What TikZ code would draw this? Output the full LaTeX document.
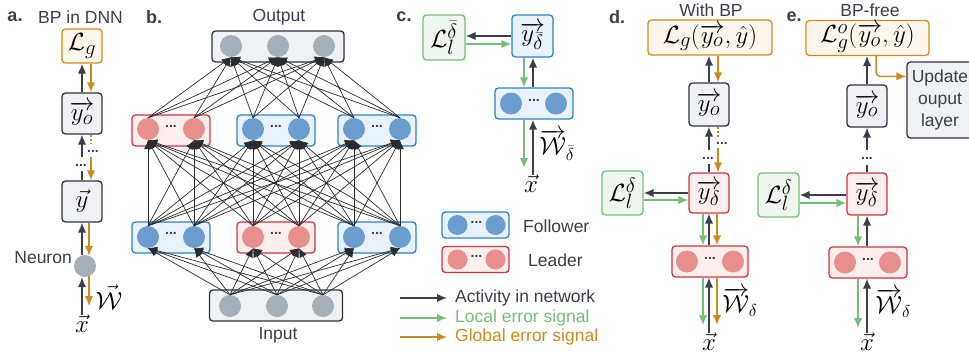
\documentclass[tikz,border=0pt]{standalone}
\usepackage{fontspec}
\setmainfont{Liberation Sans}
\usetikzlibrary{arrows.meta,calc}
\definecolor{dkc}{HTML}{3A3F4A}
\definecolor{txc}{HTML}{3A3F4A}
\definecolor{nnc}{HTML}{2A2C30}
\definecolor{grc}{HTML}{74BF78}
\definecolor{grf}{HTML}{EEF6EF}
\definecolor{ogc}{HTML}{CF8A1E}
\definecolor{ogf}{HTML}{FCF6EC}
\definecolor{rdb}{HTML}{D0353F}
\definecolor{rdf}{HTML}{FDEEEE}
\definecolor{rdc}{HTML}{E78F8A}
\definecolor{blb}{HTML}{2A85C5}
\definecolor{blf}{HTML}{E9F2FB}
\definecolor{blc}{HTML}{6B9ECF}
\definecolor{gyb}{HTML}{2F343C}
\definecolor{gyf}{HTML}{EFF1F4}
\definecolor{gyc}{HTML}{A5AFBA}
\tikzset{
 mth/.style={font=\fontsize{28}{30}\selectfont},
 bx/.style={rounded corners=3.5pt, line width=1.3pt, inner sep=0pt, mth},
 obx/.style={bx,draw=ogc,fill=ogf},
 gbx/.style={bx,draw=gyb,fill=gyf},
 rbx/.style={bx,draw=rdb,fill=rdf},
 bbx/.style={bx,draw=blb,fill=blf},
 lbx/.style={bx,draw=grc,fill=grf},
 rneu/.style={circle,fill=rdc,inner sep=0pt,minimum size=22pt},
 bneu/.style={circle,fill=blc,inner sep=0pt,minimum size=22pt},
 gneu/.style={circle,fill=gyc,inner sep=0pt,minimum size=22pt},
 ar/.style={line width=1.5pt,-{Latex[length=10pt,width=8.5pt]}},
 dk/.style={ar,draw=dkc},
 gr/.style={ar,draw=grc},
 og/.style={ar,draw=ogc},
 dkline/.style={line width=1.5pt,draw=dkc},
 ogdash/.style={line width=1.5pt,draw=ogc,dash pattern=on 2pt off 2pt},
 nn/.style={draw=nnc,line width=0.7pt,-{Latex[length=9pt,width=8pt]}},
 txt/.style={font=\fontsize{17.5}{20}\selectfont,text=txc,inner sep=0pt},
 pl/.style={font=\bfseries\fontsize{18}{20}\selectfont,text=txc,inner sep=0pt},
 dts/.style={font=\bfseries\fontsize{14}{14}\selectfont,text=txc,inner sep=0pt},
 lbl/.style={mth,inner sep=0pt},
 wlbl/.style={font=\fontsize{25}{27}\selectfont,inner sep=0pt},
}
\begin{document}
\begin{tikzpicture}[x=1pt,y=-1pt]
\clip (0,0) rectangle (969,356);
\fill[white] (0,0) rectangle (969,356);

% ---------------- panel a
\node[pl] at (15,17) {a.};
\node[txt,anchor=west] at (38,17) {BP in DNN};
\node[obx,minimum width=40,minimum height=34] (aL) at (82,46) {$\mathcal{L}_g$};
\node[gbx,minimum width=40,minimum height=41] (aYo) at (82,113.5) {$\overrightarrow{y_o}$};
\node[gbx,minimum width=40,minimum height=41] (aY) at (82,201.5) {$\vec{y}$};
\node[gneu] (aN) at (85,266) {};
\node[txt,anchor=east] at (72,258) {Neuron};
\node[lbl] (aX) at (82,324) {$\vec{x}$};
\node[wlbl] at (109,297) {$\vec{\mathcal{W}}$};
\draw[dk] (aYo.north) -- (aL.south);
\draw[og] ($(aL.south)+(9,0)$) -- ($(aYo.north)+(9,0)$);
\coordinate (aD1) at (82,157);
\draw[dk] (aD1) -- (aYo.south);
\draw[dkline] (aY.north) -- ++(0,-9);
\node[dts] at (93,151) {...};
\node[dts] at (81,165) {...};
\draw[ogdash] ($(aYo.south)+(9,0)$) -- ++(0,9);
\coordinate (aO1) at (91,157);
\draw[og] (aO1) -- ($(aY.north)+(9,0)$);
\draw[dk] (aN.north -| aY.south) -- (aY.south);
\draw[og] ($(aY.south)+(7,0)$) -- ($(aN.north)+(4,1)$);
\coordinate (aOx) at (89,306);
\draw[dk] (aX.north) -- (aN.south -| aX.north);
\draw[og] ($(aN.south)+(4,-1)$) -- (aOx);

% ---------------- panel b
\node[pl] at (154,17) {b.};
\node[txt] at (279,17) {Output};
\node[txt] at (278,335) {Input};
\node[gbx,minimum width=132,minimum height=31] (bO) at (278,46.5) {};
\foreach \k/\x in {1/231,2/278,3/324} \node[gneu] (o\k) at (\x,46) {};
\node[rbx,minimum width=78,minimum height=31] (bU1) at (171,130.5) {};
\node[bbx,minimum width=78,minimum height=31] (bU2) at (276,130.5) {};
\node[bbx,minimum width=78,minimum height=31] (bU3) at (377,130.5) {};
\node[bbx,minimum width=78,minimum height=31] (bL1) at (171,237.5) {};
\node[rbx,minimum width=78,minimum height=31] (bL2) at (276,237.5) {};
\node[bbx,minimum width=78,minimum height=31] (bL3) at (377,237.5) {};
\node[rneu] (u1) at (148,129) {};
\node[rneu] (u2) at (194,129) {};
\node[bneu] (u3) at (253,129) {};
\node[bneu] (u4) at (299,129) {};
\node[bneu] (u5) at (354,129) {};
\node[bneu] (u6) at (400,129) {};
\node[bneu] (l1) at (148,237) {};
\node[bneu] (l2) at (194,237) {};
\node[rneu] (l3) at (253,237) {};
\node[rneu] (l4) at (299,237) {};
\node[bneu] (l5) at (354,237) {};
\node[bneu] (l6) at (400,237) {};
\foreach \b in {bU1,bU2,bU3,bL1,bL2,bL3} \node[dts] at ($(\b)+(0,-4)$) {...};
\node[gbx,minimum width=133,minimum height=31] (bI) at (276,305.5) {};
\foreach \k/\x in {1/230,2/277,3/323} \node[gneu] (i\k) at (\x,306) {};
\foreach \s in {1,2,3} \foreach \t in {1,...,6} \draw[nn] (i\s.north) -- (l\t.south);
\foreach \s in {1,...,6} \foreach \t in {1,...,6} \draw[nn] (l\s.north) -- (u\t.south);
\foreach \s in {1,...,6} \foreach \t in {1,2,3} \draw[nn] (u\s.north) -- (o\t.south);

% ---------------- panel c
\node[pl] at (404,17) {c.};
\node[lbx,minimum width=42,minimum height=45] (cL) at (444,37.5) {$\mathcal{L}_l^{\bar\delta}$};
\node[bbx,minimum width=41,minimum height=42] (cY) at (532.5,36) {$\overrightarrow{y_{\bar\delta}}$};
\draw[dk] (cY.west) -- (cY.west -| cL.east);
\draw[gr] ($(cL.east)+(0,6.5)$) -- ($(cY.west)+(0,8)$);
\node[bbx,minimum width=78,minimum height=31] (cG) at (534,103.5) {};
\node[bneu] at ($(cG)+(-23,0)$) {};
\node[bneu] at ($(cG)+(22,0)$) {};
\node[dts] at ($(cG)+(0,-3)$) {...};
\draw[gr] ($(cY.south)+(-8.5,0)$) -- ($(cG.north)+(-10,0)$);
\draw[dk] ($(cG.north)+(-1,0)$) -- ($(cY.south)+(0.5,0)$);
\coordinate (cXg) at (524,168);
\draw[gr] ($(cG.south)+(-10,0)$) -- (cXg);
\node[lbl] (cX) at (531,184) {$\vec{x}$};
\draw[dk] ($(cX.north)+(2,0)$) -- ($(cG.south)+(-1,0)$);
\node[wlbl] at (557,145) {$\overrightarrow{\mathcal{W}}_{\bar\delta}$};

% legend
\node[bbx,minimum width=67,minimum height=26] (lF) at (475.5,225) {};
\node[bneu,minimum size=20pt] at ($(lF)+(-18,0)$) {};
\node[bneu,minimum size=20pt] at ($(lF)+(20,0)$) {};
\node[dts] at ($(lF)+(1,-3)$) {...};
\node[txt,anchor=west] at (523,226) {Follower};
\node[rbx,minimum width=67,minimum height=26] (lL) at (475.5,259.5) {};
\node[rneu,minimum size=20pt] at ($(lL)+(-18,0)$) {};
\node[rneu,minimum size=20pt] at ($(lL)+(20,0)$) {};
\node[dts] at ($(lL)+(1,-3)$) {...};
\node[txt,anchor=west] at (528,260) {Leader};
\coordinate (k1a) at (400,298); \coordinate (k1b) at (447,298);
\coordinate (k2a) at (400,318); \coordinate (k2b) at (447,318);
\coordinate (k3a) at (400,337); \coordinate (k3b) at (447,337);
\draw[dk] (k1a) -- (k1b);
\draw[gr] (k2a) -- (k2b);
\draw[og] (k3a) -- (k3b);
\node[txt,anchor=west] at (455,298) {Activity in network};
\node[txt,anchor=west,text=grc] at (455,318) {Local error signal};
\node[txt,anchor=west,text=ogc] at (455,337) {Global error signal};

% ---------------- panel d
\node[pl] at (617,17) {d.};
\node[txt] at (711,10) {With BP};
\node[obx,minimum width=124,minimum height=35] (dL) at (710,37.5) {$\mathcal{L}_g(\overrightarrow{y_o},\hat{y})$};
\node[gbx,minimum width=40,minimum height=43] (dYo) at (709,104.5) {$\overrightarrow{y_o}$};
\draw[dk] (dYo.north) -- (dYo.north |- dL.south);
\draw[og] ($(dL.south)+(8,0)$) -- ($(dYo.north)+(9,0)$);
\coordinate (dD1) at (709,150);
\draw[dk] (dD1) -- (dYo.south);
\node[dts] at (722,143) {...};
\node[dts] at (708,158) {...};
\node[rbx,minimum width=40,minimum height=40] (dYd) at (709,193) {$\overrightarrow{y_\delta}$};
\draw[dkline] (dYd.north) -- ++(0,-8);
\draw[ogdash] ($(dYo.south)+(9,0)$) -- ++(0,10);
\coordinate (dO1) at (718,148);
\draw[og] (dO1) -- ($(dYd.north)+(9,0)$);
\node[lbx,minimum width=41,minimum height=44] (dLl) at (622.5,193) {$\mathcal{L}_l^{\delta}$};
\draw[dk] (dYd.west) -- (dYd.west -| dLl.east);
\draw[gr] ($(dLl.east)+(0,7)$) -- ($(dYd.west)+(0,7)$);
\node[rbx,minimum width=76,minimum height=31] (dG) at (710,261.5) {};
\node[rneu] at ($(dG)+(-23,0)$) {};
\node[rneu] at ($(dG)+(23,0)$) {};
\node[dts] at ($(dG)+(0,-3)$) {...};
\draw[gr] ($(dYd.south)+(-6,0)$) -- ($(dG.north)+(-7,0)$);
\draw[dk] ($(dG.north)+(-1,0)$) -- (dYd.south);
\draw[og] ($(dYd.south)+(8,0)$) -- ($(dG.north)+(7,0)$);
\node[lbl] (dX) at (709,342) {$\vec{x}$};
\coordinate (dXg) at (703,325);
\coordinate (dXo) at (717,325);
\draw[gr] ($(dG.south)+(-7,0)$) -- (dXg);
\draw[dk] (dX.north) -- ($(dG.south)+(-1,0)$);
\draw[og] ($(dG.south)+(7,0)$) -- (dXo);
\node[wlbl] at (740,302) {$\overrightarrow{\mathcal{W}}_{\delta}$};

% ---------------- panel e
\node[pl] at (794,17) {e.};
\node[txt] at (870,10) {BP-free};
\node[obx,minimum width=123,minimum height=35] (eL) at (867.5,38) {$\mathcal{L}_g^o(\overrightarrow{y_o},\hat{y})$};
\node[gbx,minimum width=66,minimum height=76,font=\fontsize{17.5}{22}\selectfont,align=center,text=txc] (eU) at (940,100) {Update\\ouput\\layer};
\draw[og,rounded corners=4pt] ($(eL.south)+(8.5,0)$) |- ($(eU.north west)+(0,15)$);
\node[gbx,minimum width=40,minimum height=42] (eYo) at (867,106) {$\overrightarrow{y_o}$};
\draw[dk] (eYo.north) -- (eYo.north |- eL.south);
\coordinate (eD1) at (867,150);
\draw[dk] (eD1) -- (eYo.south);
\node[dts] at (867,158) {...};
\node[rbx,minimum width=40,minimum height=42] (eYd) at (867,194) {$\overrightarrow{y_\delta}$};
\draw[dkline] (eYd.north) -- ++(0,-7);
\node[lbx,minimum width=41,minimum height=44] (eLl) at (778.5,195) {$\mathcal{L}_l^{\delta}$};
\draw[dk] ($(eYd.west)+(0,1)$) -- ($(eYd.west -| eLl.east)+(0,1)$);
\draw[gr] ($(eLl.east)+(0,8)$) -- ($(eYd.west)+(0,9)$);
\node[rbx,minimum width=78,minimum height=31] (eG) at (868,262.5) {};
\node[rneu] at ($(eG)+(-23,0)$) {};
\node[rneu] at ($(eG)+(22,0)$) {};
\node[dts] at ($(eG)+(0,-3)$) {...};
\draw[gr] ($(eYd.south)+(-9,0)$) -- ($(eG.north)+(-10,0)$);
\draw[dk] ($(eG.north)+(-1,0)$) -- (eYd.south);
\node[lbl] (eX) at (867,342) {$\vec{x}$};
\coordinate (eXg) at (858,328);
\draw[gr] ($(eG.south)+(-10,0)$) -- (eXg);
\draw[dk] (eX.north) -- ($(eG.south)+(-1,0)$);
\node[wlbl] at (893,303) {$\overrightarrow{\mathcal{W}}_{\delta}$};
\end{tikzpicture}
\end{document}
